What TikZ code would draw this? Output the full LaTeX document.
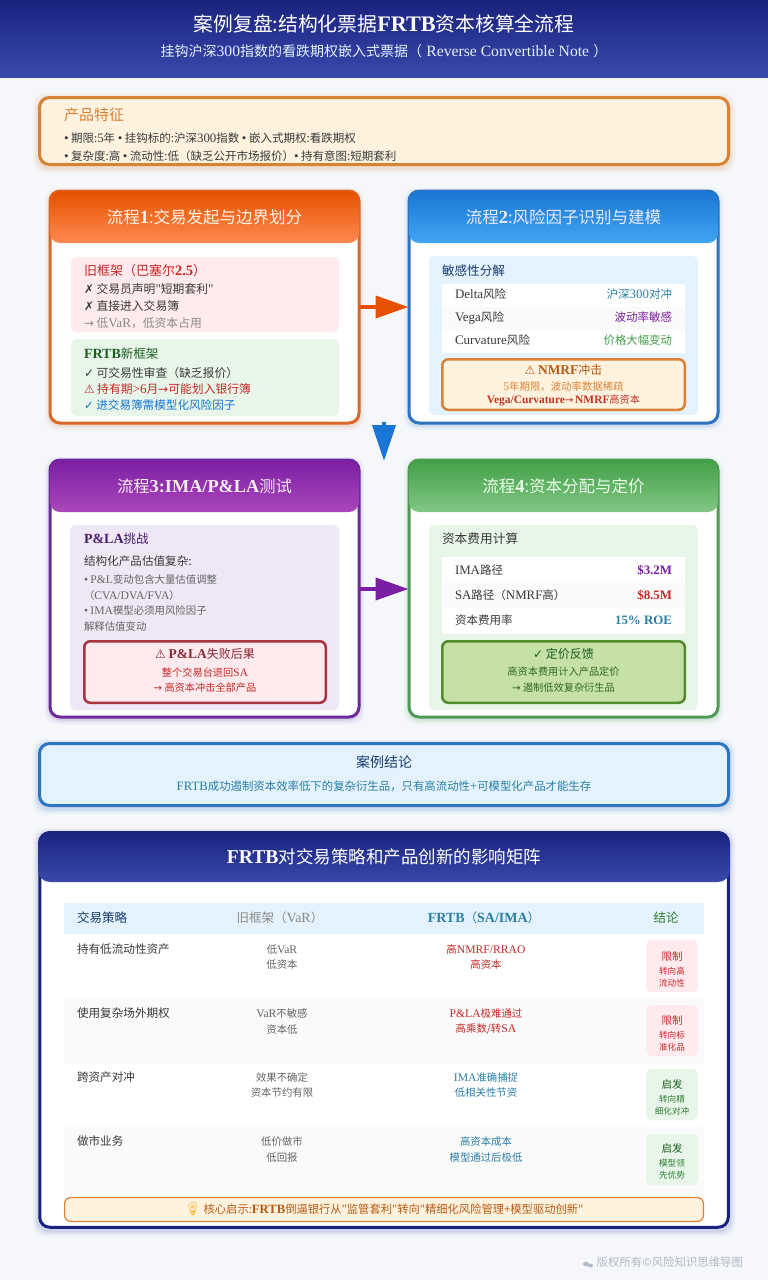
\documentclass[tikz,border=0pt]{standalone}
\usepackage{fontspec}
\usetikzlibrary{arrows.meta}
\setmainfont{Noto Sans CJK SC}
\newfontfamily\latf[Scale=1.12]{Liberation Serif}
\newfontfamily\symf{DejaVu Sans}
\newfontfamily\emof{Noto Emoji}
\newcommand{\Ltn}[1]{{\latf #1}}
\newcommand{\Ltb}[1]{{\latf\bfseries #1}}
\newcommand{\Sy}[1]{{\symf #1}}
\newcommand{\Qt}{{\latf "}}
\newcommand{\Bu}{{\latf •}}
\definecolor{pagebg}{HTML}{F5F7FB}
\definecolor{navyA}{HTML}{1A237E}\definecolor{navyB}{HTML}{3949AB}
\definecolor{orA}{HTML}{E65100}\definecolor{orB}{HTML}{FF8A50}\definecolor{orL}{HTML}{D9692A}
\definecolor{blA}{HTML}{1976D2}\definecolor{blB}{HTML}{42A5F5}\definecolor{blL}{HTML}{2F74C0}
\definecolor{puA}{HTML}{7B1FA2}\definecolor{puB}{HTML}{AB47BC}\definecolor{puL}{HTML}{6A2A9A}
\definecolor{grA}{HTML}{43A047}\definecolor{grB}{HTML}{81C784}\definecolor{grL}{HTML}{4F9A55}
\definecolor{creamF}{HTML}{FFF3E0}\definecolor{amber}{HTML}{D98236}
\definecolor{redF}{HTML}{FFEBEE}\definecolor{redT}{HTML}{C62828}\definecolor{redL}{HTML}{A83240}
\definecolor{greenF}{HTML}{E8F5E9}\definecolor{greenT}{HTML}{2E7D32}\definecolor{greenD}{HTML}{1B5E20}
\definecolor{blueF}{HTML}{E3F2FD}\definecolor{inkN}{HTML}{1A3C6E}\definecolor{teal}{HTML}{2A7FA5}
\definecolor{lavF}{HTML}{EDE7F6}\definecolor{limeF}{HTML}{C5E1A5}\definecolor{limeL}{HTML}{558B2F}\definecolor{limeT}{HTML}{33691E}
\definecolor{ink}{HTML}{3A3A3A}\definecolor{mid}{HTML}{666666}\definecolor{soft}{HTML}{8A8A8A}
\definecolor{rowalt}{HTML}{FAFAFA}\definecolor{foot}{HTML}{B4B9C6}\definecolor{brown}{HTML}{B85A12}
\newcount\txc
\tikzset{
  txt/.style={inner sep=0pt,outer sep=0pt,anchor=west,align=left},
  panelbox/.style={draw=#1,line width=3pt,fill=white,rounded corners=10pt,inner sep=0pt,outer sep=0pt},
  softbox/.style={fill=#1,rounded corners=6pt,inner sep=0pt,outer sep=0pt},
  alertbox/.style 2 args={draw=#1,fill=#2,line width=2.5pt,rounded corners=6pt,inner sep=0pt,outer sep=0pt},
  flow/.style={line width=4pt,draw=#1,-{Triangle[length=33pt,width=22pt,fill=#1]},shorten >=0.5pt}
}
% text: [opts]{x}{y}{size}{colour}{text}
\newcommand{\tx}[6][]{\global\advance\txc by 1
  \node[txt,name=t\the\txc,text=#5,text height={#4*0.82pt},text depth={#4*0.18pt},font=\fontsize{#4}{#4}\selectfont,#1] at (#2,#3) {#6};}
% box: style name x1 y1 x2 y2
\newcommand{\bx}[6][]{\node[#1,name=#2,minimum width={(#5-#3)*1pt},minimum height={(#6-#4)*1pt},
  anchor=center] at ({(#3+#5)/2},{(#4+#6)/2}) {};}
\newcommand{\glow}[5]{\foreach \s/\o in {5/.05,3/.07,1.5/.09}
  {\fill[#5,opacity=\o,rounded corners=12pt] ({#1-\s},{#2-\s+2}) rectangle ({#3+\s},{#4+\s+2});}}
% panel: name x1 y1 x2 y2 headerbottom line c1 c2 title
\newcommand{\panel}[9]{\glow{#2}{#3}{#4}{#5}{#7}
  \bx[panelbox=#7]{#1}{#2+1.5}{#3+1.5}{#4-1.5}{#5-1.5}
  \shade[top color=#8,bottom color=#9,rounded corners=10pt] (#2,#3) rectangle (#4,#6);}
\begin{document}
\begin{tikzpicture}[x=1pt,y=-1pt]
\useasboundingbox (0,0) rectangle (768,1280);
\fill[pagebg] (0,0) rectangle (768,1280);
% top banner
\shade[top color=navyA,bottom color=navyB] (0,0) rectangle (768,77);
\tx[anchor=center]{384}{25}{19.8}{white}{案例复盘:结构化票据\Ltb{FRTB}资本核算全流程}
\tx[anchor=center]{384}{52}{14}{blueF}{挂钩沪深\Ltn{300}指数的看跌期权嵌入式票据（\hspace{.3em}\Ltn{Reverse Convertible Note}\hspace{.3em}）}
% product features
\glow{38}{96}{730}{166}{amber}
\bx[draw=amber,fill=creamF,line width=3pt,rounded corners=10pt,inner sep=0pt,outer sep=0pt]{feat}{39.5}{97.5}{728.5}{164.5}
\tx{64}{116}{15}{amber}{产品特征}
\tx{64}{139}{11.5}{ink}{\Bu{} 期限:\Ltn{5}年 \Bu{} 挂钩标的:沪深\Ltn{300}指数 \Bu{} 嵌入式期权:看跌期权}
\tx{64}{157}{11.5}{ink}{\Bu{} 复杂度:高 \Bu{} 流动性:低（缺乏公开市场报价）\Bu{} 持有意图:短期套利}
% panel 1
\panel{p1}{50}{191}{359}{423}{243}{orL}{orA}{orB}
\tx[anchor=center]{204.5}{218}{16.5}{white!92!orange}{流程\Ltb{1}:交易发起与边界划分}
\bx[softbox=redF]{old}{71}{257}{339}{332}
\tx{84}{271}{13}{redT}{旧框架（巴塞尔\Ltb{2.5}）}
\tx{84}{290}{11.8}{ink}{\Sy{✗} 交易员声明\Qt{}短期套利\Qt{}}
\tx{84}{307}{11.8}{ink}{\Sy{✗} 直接进入交易簿}
\tx{84}{324}{11.8}{soft}{\Sy{→} 低\Ltn{VaR}，低资本占用}
\bx[softbox=greenF]{new}{71}{339}{339}{416}
\tx{84}{354}{12.5}{greenD}{\Ltb{FRTB}新框架}
\tx{84}{374}{11.8}{ink}{\Sy{✓} 可交易性审查（缺乏报价）}
\tx{84}{390}{11.8}{redT}{\Sy{⚠} 持有期\Ltn{>6}月\Sy{→}可能划入银行簿}
\tx{84}{406}{11.6}{blA}{\Sy{✓} 进交易簿需模型化风险因子}
% panel 2
\panel{p2}{409}{191}{718}{423}{243}{blL}{blA}{blB}
\tx[anchor=center]{563.5}{218}{16.5}{white!92!blue}{流程\Ltb{2}:风险因子识别与建模}
\bx[softbox=blueF]{sens}{429}{256}{698}{415}
\tx{442}{271}{12.6}{inkN}{敏感性分解}
\fill[white] (442,284) rectangle (685,353);
\fill[rowalt] (442,307) rectangle (685,330);
\tx{455}{295}{11.6}{ink}{\Ltn{Delta}风险}
\tx[anchor=east]{672}{295}{11.5}{teal}{沪深\Ltn{300}对冲}
\tx{455}{318}{11.6}{ink}{\Ltn{Vega}风险}
\tx[anchor=east]{672}{318}{11.5}{puA}{波动率敏感}
\tx{455}{341}{11.6}{ink}{\Ltn{Curvature}风险}
\tx[anchor=east]{672}{341}{11.4}{grA}{价格大幅变动}
\bx[alertbox={amber}{creamF}]{nmrf}{442.25}{359.25}{684.75}{409.75}
\tx[anchor=center]{563.5}{371}{12}{brown}{\Sy{⚠} \Ltb{NMRF}冲击}
\tx[anchor=center]{563.5}{387}{10.4}{amber}{\Ltn{5}年期限，波动率数据稀疏}
\tx[anchor=center]{563.5}{400}{10.2}{redT!80!brown}{\Ltb{Vega/Curvature}\Sy{→}\,\Ltb{NMRF}高资本}
% panel 3
\panel{p3}{50}{460}{359}{717}{512}{puL}{puA}{puB}
\tx[anchor=center]{204.5}{487}{16.3}{white!92!purple}{流程\Ltb{3:IMA/P\&LA}测试}
\bx[softbox=lavF]{chal}{70}{525}{339}{710}
\tx{84}{539}{12.5}{puL!70!black}{\Ltb{P\&LA}挑战}
\tx{84}{562}{11.6}{ink}{结构化产品估值复杂:}
\tx{84}{580}{10.4}{mid}{\Bu{} \Ltn{P\&L}变动包含大量估值调整}
\tx{84}{596}{10.4}{mid}{（\Ltn{CVA/DVA/FVA}）}
\tx{84}{611}{10.4}{mid}{\Bu{} \Ltn{IMA}模型必须用风险因子}
\tx{84}{627}{10.4}{mid}{解释估值变动}
\bx[alertbox={redL}{redF}]{fail}{84.25}{641.25}{325.75}{702.75}
\tx[anchor=center]{205}{655}{12}{redL!80!black}{\Sy{⚠} \Ltb{P\&LA}失败后果}
\tx[anchor=center]{205}{673}{10.2}{redT}{整个交易台退回\Ltn{SA}}
\tx[anchor=center]{205}{688}{10.2}{redT}{\Sy{→} 高资本冲击全部产品}
% panel 4
\panel{p4}{409}{460}{718}{717}{512}{grL}{grA}{grB}
\tx[anchor=center]{563.5}{487}{16.5}{white!92!green}{流程\Ltb{4}:资本分配与定价}
\bx[softbox=greenF]{cost}{429}{525}{698}{710}
\tx{442}{539}{12.7}{ink}{资本费用计算}
\fill[white] (442,557) rectangle (685,634);
\fill[rowalt] (442,583) rectangle (685,608);
\tx{455}{571}{11.5}{ink}{\Ltn{IMA}路径}
\tx[anchor=east]{672}{571}{11.5}{puA}{\Ltb{\$3.2M}}
\tx{455}{596}{11.5}{ink}{\Ltn{SA}路径（\Ltn{NMRF}高）}
\tx[anchor=east]{672}{596}{11.5}{redT}{\Ltb{\$8.5M}}
\tx{455}{621}{11.5}{ink}{资本费用率}
\tx[anchor=east]{672}{621}{11.5}{teal}{\Ltb{15\% ROE}}
\bx[alertbox={limeL}{limeF}]{price}{442.25}{641.25}{684.75}{702.75}
\tx[anchor=center]{563.5}{655}{12}{greenD}{\Sy{✓} 定价反馈}
\tx[anchor=center]{563.5}{672}{10.2}{limeT}{高资本费用计入产品定价}
\tx[anchor=center]{563.5}{688}{10.2}{limeT}{\Sy{→} 遏制低效复杂衍生品}
% connectors
\draw[flow=orA] (p1.east|-0,307) -- (p2.west|-0,307);
\draw[flow=puA] (p3.east|-0,589) -- (p4.west|-0,589);
\coordinate (dtop) at (384,422);
\coordinate (dend) at (384,461);
\draw[line width=4pt,draw=blA,-{Triangle[length=36pt,width=23pt,fill=blA]}] (dtop) -- (dend);
% conclusion
\glow{38}{742}{730}{807}{blL}
\bx[draw=blL,fill=blueF,line width=3pt,rounded corners=10pt,inner sep=0pt,outer sep=0pt]{concl}{39.5}{743.5}{728.5}{805.5}
\tx[anchor=center]{384}{763}{14}{inkN}{案例结论}
\tx[anchor=center]{384}{787}{11.4}{teal}{\Ltn{FRTB}成功遏制资本效率低下的复杂衍生品，只有高流动性\Ltn{+}可模型化产品才能生存}
% matrix
\glow{38}{831}{730}{1229}{navyB}
\bx[panelbox=navyA]{matrix}{39.75}{832.75}{728.25}{1227.25}
\shade[top color=navyA,bottom color=navyB,rounded corners=12pt] (38,831) rectangle (730,882);
\tx[anchor=center]{384}{858}{17.5}{white}{\Ltb{FRTB}对交易策略和产品创新的影响矩阵}
\fill[blueF] (64,903) rectangle (704,934);
\fill[rowalt] (64,998) rectangle (704,1064);
\fill[rowalt] (64,1127) rectangle (704,1192);
\tx{77}{918}{12.5}{inkN}{交易策略}
\tx[anchor=center]{280}{918}{12.5}{soft}{旧框架（\Ltn{VaR}）}
\tx[anchor=center]{484}{918}{12.5}{teal}{\Ltb{FRTB}（\Ltb{SA/IMA}）}
\tx[anchor=center]{666}{918}{12.5}{greenT}{结论}
% rows
\tx{77}{950}{11.6}{ink}{持有低流动性资产}
\tx[anchor=center]{282}{950}{10.4}{mid}{低\Ltn{VaR}}
\tx[anchor=center]{282}{965}{10.4}{mid}{低资本}
\tx[anchor=center]{486}{950}{10.4}{redT}{高\Ltn{NMRF/RRAO}}
\tx[anchor=center]{486}{965}{10.4}{redT}{高资本}
\bx[softbox=redF]{b1}{646}{940}{698}{992}
\tx[anchor=center]{672}{957}{10.5}{redT}{限制}
\tx[anchor=center]{672}{972}{8.6}{redT}{转向高}
\tx[anchor=center]{672}{984}{8.6}{redT}{流动性}
\tx{77}{1014}{11.6}{ink}{使用复杂场外期权}
\tx[anchor=center]{282}{1014}{10.4}{mid}{\Ltn{VaR}不敏感}
\tx[anchor=center]{282}{1030}{10.4}{mid}{资本低}
\tx[anchor=center]{486}{1014}{10.4}{redT}{\Ltn{P\&LA}极难通过}
\tx[anchor=center]{486}{1029}{10.4}{redT}{高乘数/转\Ltn{SA}}
\bx[softbox=redF]{b2}{646}{1005}{698}{1056}
\tx[anchor=center]{672}{1021}{10.5}{redT}{限制}
\tx[anchor=center]{672}{1036}{8.6}{redT}{转向标}
\tx[anchor=center]{672}{1048}{8.6}{redT}{准化品}
\tx{77}{1078}{11.6}{ink}{跨资产对冲}
\tx[anchor=center]{282}{1078}{10.4}{mid}{效果不确定}
\tx[anchor=center]{282}{1093}{10.4}{mid}{资本节约有限}
\tx[anchor=center]{486}{1078}{10.4}{teal}{\Ltn{IMA}准确捕捉}
\tx[anchor=center]{486}{1093}{10.4}{teal}{低相关性节资}
\bx[softbox=greenF]{b3}{646}{1069}{698}{1120}
\tx[anchor=center]{672}{1085}{10.5}{greenD}{启发}
\tx[anchor=center]{672}{1100}{8.6}{greenT}{转向精}
\tx[anchor=center]{672}{1112}{8.6}{greenT}{细化对冲}
\tx{77}{1142}{11.6}{ink}{做市业务}
\tx[anchor=center]{282}{1142}{10.4}{mid}{低价做市}
\tx[anchor=center]{282}{1158}{10.4}{mid}{低回报}
\tx[anchor=center]{486}{1142}{10.4}{teal}{高资本成本}
\tx[anchor=center]{486}{1158}{10.4}{teal}{模型通过后极低}
\bx[softbox=greenF]{b4}{646}{1134}{698}{1185}
\tx[anchor=center]{672}{1149}{10.5}{greenD}{启发}
\tx[anchor=center]{672}{1164}{8.6}{greenT}{模型领}
\tx[anchor=center]{672}{1176}{8.6}{greenT}{先优势}
% callout
\bx[draw=amber,fill=creamF,line width=1.2pt,rounded corners=6pt,inner sep=0pt,outer sep=0pt]{core}{64.6}{1197.6}{703.4}{1221.4}
\tx[anchor=center]{384}{1210}{11.3}{brown}{{\emof\fontsize{13}{13}\selectfont\color{orange!70!yellow}💡} 核心启示:\Ltb{FRTB}倒逼银行从\Qt{}监管套利\Qt{}转向\Qt{}精细化风险管理+模型驱动创新\Qt{}}
% footer
\fill[foot] (586,1264) ellipse (3pt and 2.4pt);
\fill[foot] (590.5,1265.5) ellipse (2.4pt and 2pt);
\tx[anchor=east]{743}{1263}{11.4}{foot}{版权所有©风险知识思维导图}
\end{tikzpicture}
\end{document}
